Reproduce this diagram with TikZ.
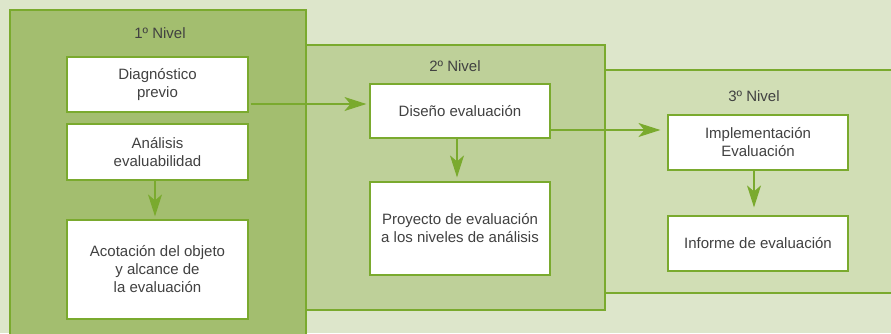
\documentclass[tikz,border=0pt]{standalone}
\usepackage{fontspec}
\setmainfont{Liberation Sans}
\usetikzlibrary{arrows.meta}
\definecolor{bgc}{RGB}{221,230,203}
\definecolor{lvA}{RGB}{163,190,111}
\definecolor{lvB}{RGB}{190,208,153}
\definecolor{lvC}{RGB}{209,222,181}
\definecolor{lnc}{RGB}{122,170,46}
\definecolor{txc}{RGB}{65,65,65}
\tikzset{
  lvl/.style={draw=lnc, line width=1.3pt},
  wbox/.style={draw=lnc, line width=1.2pt, fill=white, text=txc, align=center,
    font=\fontsize{15}{18}\selectfont, inner sep=0pt, minimum width=181pt},
  lbl/.style={text=txc, font=\fontsize{15}{18}\selectfont, inner sep=0pt},
  arr/.style={draw=lnc, line width=1.2pt, -{Stealth[length=22pt,width=14pt,inset=6pt]}}
}
\begin{document}
\begin{tikzpicture}[x=1pt,y=-1pt]
\useasboundingbox (0,0) rectangle (891,333);
\fill[bgc] (0,0) rectangle (891,333);
% levels
\draw[lvl, fill=lvC] (900,70) -- (605,70) -- (605,293) -- (900,293);
\draw[lvl, fill=lvB] (306,45) rectangle (605,310);
\draw[lvl, fill=lvA] (10,340) -- (10,10) -- (306,10) -- (306,340);
\node[lbl] (t1) at (160,33) {1º Nivel};
\node[lbl] (t2) at (455,66) {2º Nivel};
\node[lbl] (t3) at (754,96) {3º Nivel};
% level 1 boxes
\node[wbox, minimum height=55pt] (diag) at (157.5,84.5) {Diagnóstico\\previo};
\node[wbox, minimum height=56pt] (anal) at (157.5,152) {Análisis\\evaluabilidad};
\node[wbox, minimum height=99pt] (acot) at (157.5,269.5) {Acotación del objeto\\y alcance de\\la evaluación};
% level 2 boxes
\node[wbox, minimum width=180pt, minimum height=54pt] (dise) at (460,111) {Diseño evaluación};
\node[wbox, minimum width=180pt, minimum height=93pt] (proy) at (460,228.5) {Proyecto de evaluación\\a los niveles de análisis};
% level 3 boxes
\node[wbox, minimum width=180pt, minimum height=55pt] (impl) at (758,142.5) {Implementación\\Evaluación};
\node[wbox, minimum width=180pt, minimum height=55pt] (info) at (758,243.5) {Informe de evaluación};
% arrows
\coordinate (a1s) at ([xshift=2pt,yshift=-19.5pt]diag.east);
\coordinate (a1e) at ([xshift=-3pt]a1s -| dise.west);
\draw[arr] (a1s) -- (a1e);
\coordinate (a2s) at ([yshift=-19pt]dise.east);
\coordinate (a2e) at ([xshift=-7pt]a2s -| impl.west);
\draw[arr] (a2s) -- (a2e);
\coordinate (a3s) at ([xshift=-2.5pt]anal.south);
\coordinate (a3e) at ([yshift=3pt]a3s |- acot.north);
\draw[arr] (a3s) -- (a3e);
\coordinate (a4s) at ([xshift=-3pt]dise.south);
\coordinate (a4e) at ([yshift=4pt]a4s |- proy.north);
\draw[arr] (a4s) -- (a4e);
\coordinate (a5s) at ([xshift=-4pt]impl.south);
\coordinate (a5e) at ([yshift=8pt]a5s |- info.north);
\draw[arr] (a5s) -- (a5e);
\end{tikzpicture}
\end{document}
